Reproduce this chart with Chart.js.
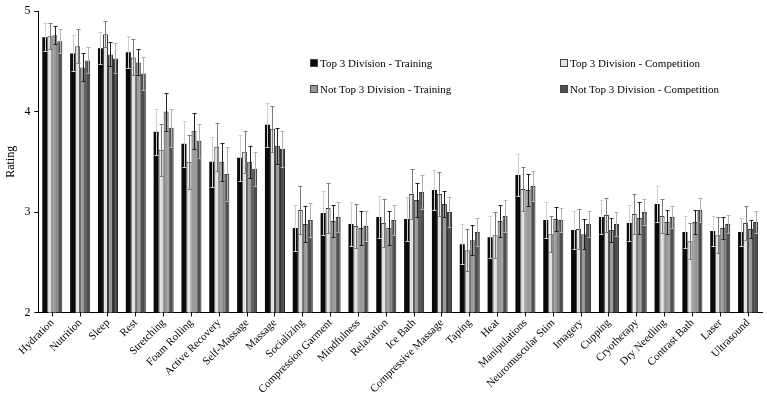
<!DOCTYPE html>
<html>
<head>
<meta charset="utf-8">
<script src="https://cdn.jsdelivr.net/npm/chart.js@4.4.1/dist/chart.umd.min.js"></script>
<style>
  body { margin: 0; background: #fff; }
  #wrap { position: relative; width: 767px; height: 394px; }
  .legend-item { position: absolute; font: 11px "Liberation Serif", "Times New Roman", serif; color: #000; white-space: nowrap; line-height: 12px; }
  .legend-box { display: inline-block; width: 6px; height: 6px; margin-right: 2px; border: 1px solid #444; vertical-align: 0px; }
</style>
</head>
<body>
<div id="wrap">
  <canvas id="rating-chart" width="767" height="394"></canvas>
  <div id="rating-legend"></div>
</div>
<script>
var categories = ['Hydration', 'Nutrition', 'Sleep', 'Rest', 'Stretching', 'Foam Rolling', 'Active Recovery',
  'Self-Massage', 'Massage', 'Socializing', 'Compression Garment', 'Mindfulness', 'Relaxation', 'Ice Bath',
  'Compressive Massage', 'Taping', 'Heat', 'Manipulations', 'Neuromuscular Stim', 'Imagery', 'Cupping',
  'Cryotherapy', 'Dry Needling', 'Contrast Bath', 'Laser', 'Ultrasound'];

var top3Training       = [4.74, 4.58, 4.63, 4.59, 3.80, 3.68, 3.50, 3.54, 3.87, 2.84, 2.99, 2.88, 2.95, 2.93, 3.22, 2.68, 2.75, 3.37, 2.92, 2.82, 2.95, 2.89, 3.08, 2.80, 2.81, 2.80];
var top3Competition    = [4.75, 4.65, 4.77, 4.54, 3.62, 3.50, 3.65, 3.60, 3.83, 3.02, 3.04, 2.86, 2.89, 3.18, 3.18, 2.62, 2.77, 3.23, 2.78, 2.83, 2.97, 2.98, 2.96, 2.71, 2.77, 2.89];
var notTop3Training    = [4.76, 4.44, 4.57, 4.49, 4.00, 3.81, 3.50, 3.50, 3.66, 2.88, 2.91, 2.84, 2.84, 3.12, 3.08, 2.72, 2.91, 3.22, 2.93, 2.78, 2.82, 2.94, 2.90, 2.90, 2.84, 2.83];
var notTop3Competition = [4.70, 4.51, 4.53, 4.38, 3.84, 3.71, 3.38, 3.43, 3.63, 2.92, 2.95, 2.86, 2.92, 3.20, 3.00, 2.80, 2.96, 3.26, 2.92, 2.88, 2.88, 3.00, 2.95, 3.02, 2.88, 2.90];

var top3TrainingErr       = [0.14, 0.18, 0.16, 0.16, 0.23, 0.23, 0.25, 0.23, 0.22, 0.23, 0.22, 0.22, 0.21, 0.22, 0.20, 0.20, 0.21, 0.21, 0.18, 0.19, 0.17, 0.18, 0.18, 0.16, 0.15, 0.14];
var top3CompetitionErr    = [0.13, 0.17, 0.13, 0.18, 0.26, 0.27, 0.24, 0.21, 0.23, 0.24, 0.25, 0.22, 0.24, 0.25, 0.22, 0.21, 0.23, 0.22, 0.18, 0.20, 0.17, 0.20, 0.17, 0.18, 0.18, 0.17];
var notTop3TrainingErr    = [0.09, 0.14, 0.12, 0.13, 0.19, 0.18, 0.19, 0.16, 0.18, 0.18, 0.16, 0.17, 0.17, 0.17, 0.13, 0.15, 0.16, 0.16, 0.12, 0.15, 0.12, 0.16, 0.12, 0.12, 0.11, 0.09];
var notTop3CompetitionErr = [0.12, 0.13, 0.15, 0.16, 0.19, 0.17, 0.27, 0.17, 0.18, 0.17, 0.15, 0.15, 0.15, 0.17, 0.15, 0.14, 0.16, 0.15, 0.12, 0.13, 0.12, 0.13, 0.11, 0.12, 0.09, 0.11];

var seriesNames = ['Top 3 Division - Training', 'Top 3 Division - Competition',
  'Not Top 3 Division - Training', 'Not Top 3 Division - Competition'];

var serif = '"Liberation Serif", "Times New Roman", serif';

// error bars drawn on top of the bars
var errorBarPlugin = {
  id: 'errorBars',
  afterDatasetsDraw: function(chart) {
    var ctx = chart.ctx;
    var yScale = chart.scales.y;
    chart.data.datasets.forEach(function(ds, i) {
      var meta = chart.getDatasetMeta(i);
      ctx.save();
      ctx.strokeStyle = ds.errorColor;
      ctx.lineWidth = 1;
      meta.data.forEach(function(bar, j) {
        var v = ds.data[j], e = ds.errors[j];
        var x = Math.round(bar.x) + 0.5;
        var top = Math.round(yScale.getPixelForValue(v + e)) + 0.5;
        var bot = Math.round(yScale.getPixelForValue(v - e)) + 0.5;
        ctx.beginPath();
        ctx.moveTo(x, top); ctx.lineTo(x, bot);
        ctx.moveTo(x - 2, top); ctx.lineTo(x + 2, top);
        ctx.moveTo(x - 2, bot); ctx.lineTo(x + 2, bot);
        ctx.stroke();
      });
      ctx.restore();
    });
  }
};

var fills = ['#0a0a0a', '#e4e4e4', '#9a9a9a', '#4e4e4e'];
var borders = ['#0a0a0a', '#3a3a3a', '#3a3a3a', '#2a2a2a'];
var errColors = ['#cfcfcf', '#7a7a7a', '#202020', '#b0b0b0'];
var values = [top3Training, top3Competition, notTop3Training, notTop3Competition];
var errs = [top3TrainingErr, top3CompetitionErr, notTop3TrainingErr, notTop3CompetitionErr];

var datasets = [];
for (var i = 0; i < values.length; i++) {
  datasets.push({
    label: seriesNames[i],
    data: values[i],
    errors: errs[i],
    errorColor: errColors[i],
    backgroundColor: fills[i],
    borderColor: borders[i],
    borderWidth: i === 0 ? 0 : 1,
    categoryPercentage: 0.72,
    barPercentage: 1.0
  });
}

var ratingChart = new Chart(document.getElementById('rating-chart').getContext('2d'), {
  type: 'bar',
  data: { labels: categories, datasets: datasets },
  options: {
    responsive: false,
    animation: false,
    layout: { padding: { top: 4, right: 5, left: 2, bottom: -2 } },
    plugins: { legend: { display: false }, tooltip: { enabled: false } },
    scales: {
      x: {
        grid: { display: true, drawOnChartArea: false, offset: false, tickLength: 4, color: '#000' },
        border: { color: '#000', width: 1 },
        ticks: { color: '#000', font: { family: serif, size: 11 }, maxRotation: 45, minRotation: 45, autoSkip: false, padding: 0 }
      },
      y: {
        min: 2, max: 5,
        grid: { display: true, drawOnChartArea: false, tickLength: 4, color: '#000' },
        border: { color: '#000', width: 1 },
        ticks: { stepSize: 1, color: '#000', font: { family: serif, size: 12 }, padding: 4 },
        title: { display: true, text: 'Rating', color: '#000', font: { family: serif, size: 12 }, padding: 2 }
      }
    }
  },
  plugins: [errorBarPlugin]
});

// legend laid out in two rows inside the plot area
var legendPos = [[310, 57], [560, 57], [310, 83], [560, 83]];
var html = [];
for (var k = 0; k < seriesNames.length; k++) {
  html.push('<div class="legend-item" style="left:' + legendPos[k][0] + 'px;top:' + legendPos[k][1] + 'px">' +
    '<span class="legend-box" style="background:' + fills[k] + '"></span>' + seriesNames[k] + '</div>');
}
document.getElementById('rating-legend').innerHTML = html.join('');
</script>
</body>
</html>
